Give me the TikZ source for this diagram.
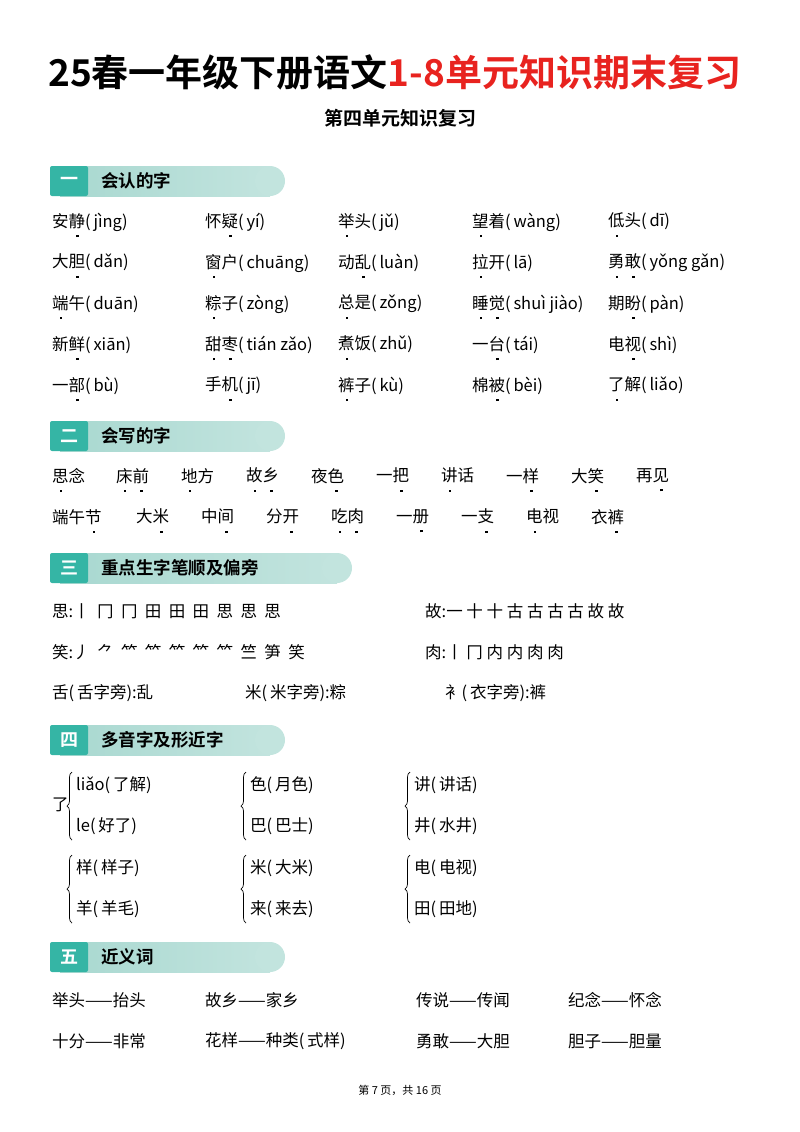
\documentclass[tikz,border=0pt]{standalone}
\usepackage{fontspec}
\setmainfont{Noto Sans CJK SC}
\newfontfamily\cjkb{Noto Sans CJK SC}[BoldFont={* Bold}]
\newfontfamily\footcjk{Noto Sans CJK SC}
\usetikzlibrary{positioning,decorations.pathreplacing}
\definecolor{tealdark}{HTML}{35B5A5}
\definecolor{teallight}{HTML}{A8D8D0}
\definecolor{titlered}{HTML}{E8231F}
\newcommand\dd[1]{#1\llap{\makebox[1em]{\hspace{1pt}\raisebox{-0.6em}{\rule{2.2pt}{2.2pt}}}}}
\newcommand\py[1]{(\,#1)}
\begin{document}
\begin{tikzpicture}[x=1pt,y=-1pt,style={
  txt/.style={anchor=west, inner sep=0pt, font=\fontsize{16.5}{19}\selectfont},
  numbox/.style={fill=tealdark, minimum width=38pt, minimum height=30pt,
    rounded corners=2pt, inner sep=0pt, text=white, font=\fontsize{18}{20}\cjkb\bfseries},
  headtxt/.style={anchor=west, inner sep=0pt, font=\fontsize{17.5}{20}\cjkb\bfseries},
  brc/.style={decorate, decoration={brace, amplitude=5pt}, line width=0.7pt}
}]
\useasboundingbox (0,0) rectangle (800,1132);
% title
\node[anchor=west, inner sep=0pt, font=\fontsize{37}{41}\cjkb\bfseries] (title)
  at (48,72) {25春一年级下册语文\textcolor{titlered}{1-8单元知识期末复习}};
\node[inner sep=0pt, font=\fontsize{19}{22}\cjkb\bfseries] (subtitle) at (400,118) {第四单元知识复习};
% section heads
\foreach \y/\n/\t/\w in {181/一/会认的字/285, 436/二/会写的字/285, 568/三/重点生字笔顺及偏旁/352,
    740/四/多音字及形近字/285, 957/五/近义词/285}{
  \fill[left color=teallight, right color=teallight!70] (60,\y-15) rectangle (\w-15,\y+15);
  \fill[teallight!70] (\w-15,\y) circle (15);
  \node[numbox] (n\n) at (69,\y) {\n};
  \node[headtxt, right=13pt of n\n] (h\n) {\t};
}
% section 1
\foreach \x/\y/\t in {
  52/225/安\dd{静}\py{jìng}, 205/225/怀\dd{疑}\py{yí}, 338/225/\dd{举}头\py{jǔ}, 472/225/\dd{望}着\py{wàng}, 608/225/\dd{低}头\py{dī},
  52/266/大\dd{胆}\py{dǎn}, 205/266/\dd{窗}户\py{chuāng}, 338/266/动\dd{乱}\py{luàn}, 472/266/\dd{拉}开\py{lā}, 608/266/\dd{勇}\dd{敢}\py{yǒng gǎn},
  52/307/\dd{端}午\py{duān}, 205/307/\dd{粽}子\py{zòng}, 338/307/\dd{总}是\py{zǒng}, 472/307/\dd{睡}\dd{觉}\py{shuì jiào}, 608/307/期\dd{盼}\py{pàn},
  52/348/新\dd{鲜}\py{xiān}, 205/348/\dd{甜}\dd{枣}\py{tián zǎo}, 338/348/\dd{煮}饭\py{zhǔ}, 472/348/一\dd{台}\py{tái}, 608/348/电\dd{视}\py{shì},
  52/389/一\dd{部}\py{bù}, 205/389/手\dd{机}\py{jī}, 338/389/\dd{裤}子\py{kù}, 472/389/棉\dd{被}\py{bèi}, 608/389/\dd{了}解\py{liǎo}}
  \node[txt] at (\x,\y) {\t};
% section 2
\foreach \x/\t in {52/\dd{思}念, 116/\dd{床}\dd{前}, 181/\dd{地}方, 246/\dd{故}\dd{乡}, 311/夜\dd{色},
    376/一\dd{把}, 441/\dd{讲}话, 506/一\dd{样}, 571/大\dd{笑}, 636/再\dd{见}}
  \node[txt] at (\x,480) {\t};
\foreach \x/\t in {52/端午\dd{节}, 136/大\dd{米}, 201/中\dd{间}, 266/分\dd{开}, 331/\dd{吃}\dd{肉},
    396/一\dd{册}, 461/一\dd{支}, 526/\dd{电}视, 591/衣\dd{裤}}
  \node[txt] at (\x,521) {\t};
% section 3
\node[txt] (s1) at (52,611) {思:丨\ \ 冂\ \ 冂\ \ 田\ \ 田\ \ 田\ \ 思\ \ 思\ \ 思};
\node[txt] (s2) at (425,611) {故:一\ 十\ 十\ 古\ 古\ 古\ 古\ 故\ 故};
\node[txt] (s3) at (52,652) {笑:丿\ \ ⺈\ \ ⺮\ \ ⺮\ \ ⺮\ \ ⺮\ \ ⺮\ \ 竺\ \ 笋\ \ 笑};
\node[txt] (s4) at (425,652) {肉:丨\ 冂\ 内\ 内\ 肉\ 肉};
\node[txt] (s5) at (52,693) {舌(\,舌字旁):乱};
\node[txt] (s6) at (245,693) {米(\,米字旁):粽};
\node[txt] (s7) at (445,693) {衤(\,衣字旁):裤};
% section 4
\node[txt] (le) at (52,805) {了};
\foreach \bx/\y/\a/\b in {72/785/liǎo(\,了解)/le(\,好了), 246/785/色(\,月色)/巴(\,巴士), 410/785/讲(\,讲话)/井(\,水井),
    72/868/样(\,样子)/羊(\,羊毛), 246/868/米(\,大米)/来(\,来去), 410/868/电(\,电视)/田(\,田地)}{
  \draw[brc] (\bx,\y+55) -- (\bx,\y-13);
  \node[txt] at (\bx+4,\y) {\a};
  \node[txt] at (\bx+4,\y+41) {\b};
}
% section 5
\foreach \x/\y/\t in {52/1000/举头——抬头, 205/1000/故乡——家乡, 416/1000/传说——传闻, 568/1000/纪念——怀念,
    52/1041/十分——非常, 205/1041/花样——种类(\,式样), 416/1041/勇敢——大胆, 568/1041/胆子——胆量}
  \node[txt] at (\x,\y) {\t};
% footer
\node[inner sep=0pt, font=\fontsize{11}{13}\footcjk] (foot) at (400,1090) {第 7 页，共 16 页};
\end{tikzpicture}
\end{document}
